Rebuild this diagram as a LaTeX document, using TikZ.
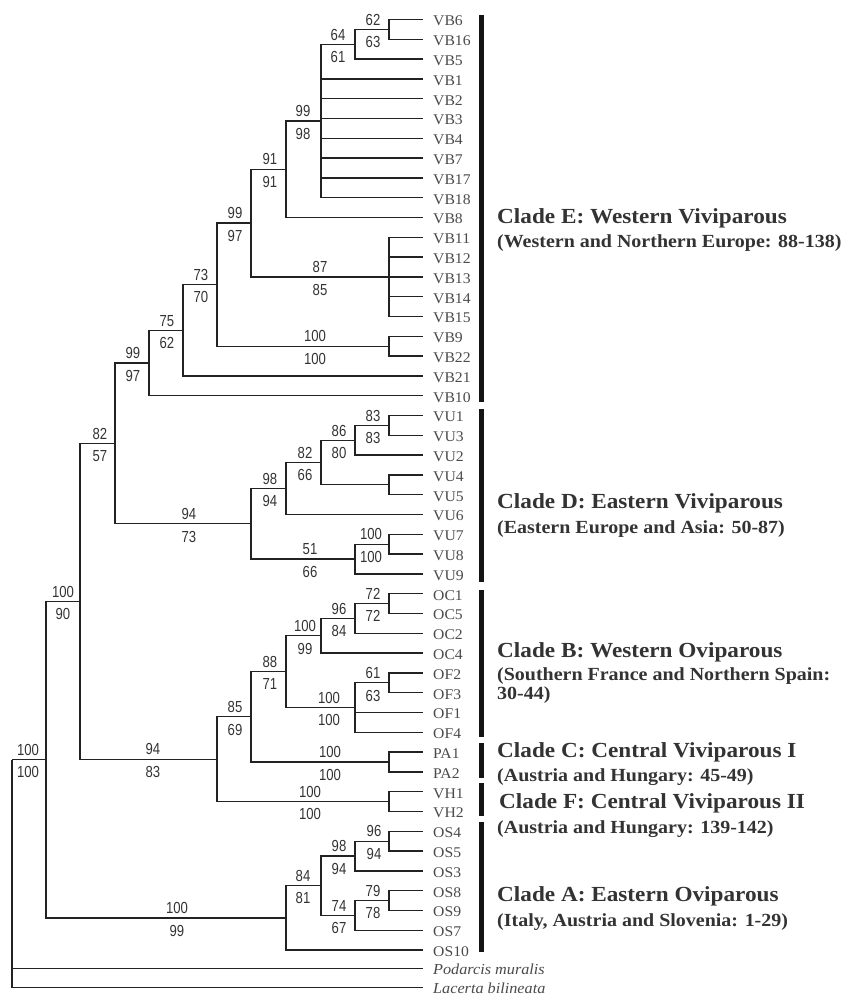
\documentclass[tikz,border=0pt]{standalone}
\usepackage{fontspec}
\setmainfont{Liberation Serif}
\newfontfamily\leaffont[FakeStretch=1.06]{Liberation Serif}
\newfontfamily\digitfont[FakeStretch=0.82]{Liberation Sans}
\newfontfamily\cladefont[FakeStretch=1.08]{Liberation Serif}
\definecolor{ink}{HTML}{222222}
\definecolor{txt}{HTML}{333333}
\definecolor{leaftxt}{HTML}{4A4A4A}
\tikzset{
  br/.style={draw=ink, line width=1.3pt, line join=miter},
  leaf/.style={anchor=west, inner xsep=10pt, inner ysep=0pt, text height=12.6pt, text depth=0pt,
    font=\leaffont\fontsize{14.8}{15}\selectfont, text=leaftxt},
  outg/.style={leaf, text height=11pt, font=\leaffont\itshape\fontsize{15.3}{15}\selectfont},
  bs/.style={inner sep=0pt, text height=11.5pt, text depth=0pt, anchor=center,
    font=\digitfont\fontsize{16}{16}\selectfont, text=txt},
  cladetitle/.style={anchor=base west, inner sep=0pt, text=txt,
    font=\cladefont\bfseries\fontsize{21.5}{22}\selectfont},
  cladesub/.style={anchor=base west, inner sep=0pt, text=txt,
    font=\cladefont\bfseries\fontsize{18.5}{19}\selectfont},
  cladebar/.style={draw=black!92, line width=4.5pt}
}
\newcommand\supp[5]{%
  \node[bs] (s#1t) at (#2,#3-10) {#4};
  \node[bs] (s#1b) at (#2,#3+12.5) {#5};}
\begin{document}
\begin{tikzpicture}[x=1pt,y=-1pt]
\useasboundingbox (0,0) rectangle (843,997);
% leaves
\foreach \n [count=\i from 0] in {VB6,VB16,VB5,VB1,VB2,VB3,VB4,VB7,VB17,VB18,VB8,VB11,VB12,VB13,VB14,VB15,VB9,VB22,VB21,VB10,VU1,VU3,VU2,VU4,VU5,VU6,VU7,VU8,VU9,OC1,OC5,OC2,OC4,OF2,OF3,OF1,OF4,PA1,PA2,VH1,VH2,OS4,OS5,OS3,OS8,OS9,OS7,OS10}
  \node[leaf] (\n) at (423,{19.5+19.8*\i}) {\n};
\node[outg] (po) at (423,968.5) {Podarcis muralis};
\node[outg] (la) at (423,987.5) {Lacerta bilineata};
% internal nodes
\coordinate (a1) at (389,29.4);
\coordinate (a2) at (355,44.25);
\coordinate (a3) at (321,121);
\coordinate (a4) at (286,169.2);
\coordinate (a5) at (389,276.9);
\coordinate (a6) at (251,223);
\coordinate (a7) at (389,346.2);
\coordinate (a8) at (217,284.6);
\coordinate (a9) at (183,330.3);
\coordinate (a10) at (149,363);
\coordinate (b1) at (389,425.4);
\coordinate (b2) at (355,440.25);
\coordinate (b3) at (389,484.8);
\coordinate (b4) at (321,462.5);
\coordinate (b5) at (286,488.5);
\coordinate (b6) at (389,544.2);
\coordinate (b7) at (355,559);
\coordinate (b8) at (251,523.8);
\coordinate (a11) at (115,443.4);
\coordinate (c1) at (389,603.6);
\coordinate (c2) at (355,618.5);
\coordinate (c3) at (321,635.8);
\coordinate (c4) at (389,682.8);
\coordinate (c5) at (355,707.5);
\coordinate (c6) at (286,671.7);
\coordinate (c7) at (389,762);
\coordinate (c8) at (251,716.8);
\coordinate (c9) at (389,801.6);
\coordinate (c10) at (217,759.2);
\coordinate (a12) at (80,601.3);
\coordinate (d1) at (389,841.2);
\coordinate (d2) at (355,856);
\coordinate (d3) at (389,900.6);
\coordinate (d4) at (355,915.4);
\coordinate (d5) at (321,885.7);
\coordinate (d6) at (286,917.9);
\coordinate (a13) at (46,759.6);
\coordinate (root) at (12,759.6);
% internal branches
\foreach \p/\c in {a2/a1,a3/a2,a4/a3,a6/a4,a6/a5,a8/a6,a8/a7,a9/a8,a10/a9,a11/a10,a11/b8,
  b2/b1,b4/b2,b4/b3,b5/b4,b7/b6,b8/b5,b8/b7,a12/a11,a12/c10,c2/c1,c3/c2,c5/c4,c6/c3,c6/c5,
  c8/c6,c8/c7,c10/c8,c10/c9,d2/d1,d4/d3,d5/d2,d5/d4,d6/d5,a13/a12,a13/d6,root/a13}
  \draw[br] (\p) |- (\c);
% terminal branches
\foreach \p/\c in {a1/VB6,a1/VB16,a2/VB5,a3/VB1,a3/VB2,a3/VB3,a3/VB4,a3/VB7,a3/VB17,a3/VB18,
  a4/VB8,a5/VB11,a5/VB12,a5/VB13,a5/VB14,a5/VB15,a7/VB9,a7/VB22,a9/VB21,a10/VB10,
  b1/VU1,b1/VU3,b2/VU2,b3/VU4,b3/VU5,b5/VU6,b6/VU7,b6/VU8,b7/VU9,
  c1/OC1,c1/OC5,c2/OC2,c3/OC4,c4/OF2,c4/OF3,c5/OF1,c5/OF4,c7/PA1,c7/PA2,c9/VH1,c9/VH2,
  d1/OS4,d1/OS5,d2/OS3,d3/OS8,d3/OS9,d4/OS7,d6/OS10,root/po,root/la}
  \draw[br] (\p) |- (\c.west);
% support values
\supp{a1}{373}{29.4}{62}{63}
\supp{a2}{338}{44.25}{64}{61}
\supp{a3}{303}{121}{99}{98}
\supp{a4}{270}{169.2}{91}{91}
\supp{a5}{320}{276.9}{87}{85}
\supp{a6}{235}{223}{99}{97}
\supp{a7}{315}{346.2}{100}{100}
\supp{a8}{201}{284.6}{73}{70}
\supp{a9}{167}{330.3}{75}{62}
\supp{a10}{133}{363}{99}{97}
\supp{b1}{373}{425.4}{83}{83}
\supp{b2}{339}{440.25}{86}{80}
\supp{b4}{305}{462.5}{82}{66}
\supp{b5}{270}{488.5}{98}{94}
\supp{b6}{371}{544.2}{100}{100}
\supp{b7}{310}{559}{51}{66}
\supp{b8}{189}{523.8}{94}{73}
\supp{a11}{100}{443.4}{82}{57}
\supp{c1}{373}{603.6}{72}{72}
\supp{c2}{339}{618.5}{96}{84}
\supp{c3}{305}{635.8}{100}{99}
\supp{c4}{373}{682.8}{61}{63}
\supp{c5}{329}{707.5}{100}{100}
\supp{c6}{270}{671.7}{88}{71}
\supp{c7}{330}{762}{100}{100}
\supp{c8}{235}{716.8}{85}{69}
\supp{c9}{310}{801.6}{100}{100}
\supp{c10}{153}{759.2}{94}{83}
\supp{a12}{63}{601.3}{100}{90}
\supp{d1}{374}{841.2}{96}{94}
\supp{d2}{339}{856}{98}{94}
\supp{d3}{373}{900.6}{79}{78}
\supp{d4}{339}{915.4}{74}{67}
\supp{d5}{303}{885.7}{84}{81}
\supp{d6}{177}{917.9}{100}{99}
\supp{a13}{28}{759.6}{100}{100}
% clade bars
\draw[cladebar] (481.5,15) -- (481.5,402);
\draw[cladebar] (481.5,409) -- (481.5,582);
\draw[cladebar] (481.5,590) -- (481.5,737);
\draw[cladebar] (481.5,743) -- (481.5,778);
\draw[cladebar] (481.5,783) -- (481.5,816);
\draw[cladebar] (481.5,822) -- (481.5,952);
% clade labels
\node[cladetitle] (cE) at (497,223) {Clade E: Western Viviparous};
\node[cladesub] (cEs) at (497,247) {(Western and Northern Europe: 88-138)};
\node[cladetitle] (cD) at (497,508) {Clade D: Eastern Viviparous};
\node[cladesub] (cDs) at (497,533) {(Eastern Europe and Asia: 50-87)};
\node[cladetitle] (cB) at (497,657) {Clade B: Western Oviparous};
\node[cladesub] (cBs) at (497,680) {(Southern France and Northern Spain:};
\node[cladesub] (cBs2) at (497,699) {30-44)};
\node[cladetitle] (cC) at (497,757) {Clade C: Central Viviparous I};
\node[cladesub] (cCs) at (497,781) {(Austria and Hungary: 45-49)};
\node[cladetitle] (cF) at (499,808) {Clade F: Central Viviparous II};
\node[cladesub] (cFs) at (497,833) {(Austria and Hungary: 139-142)};
\node[cladetitle] (cA) at (497,901) {Clade A: Eastern Oviparous};
\node[cladesub] (cAs) at (497,926) {(Italy, Austria and Slovenia: 1-29)};
\end{tikzpicture}
\end{document}
